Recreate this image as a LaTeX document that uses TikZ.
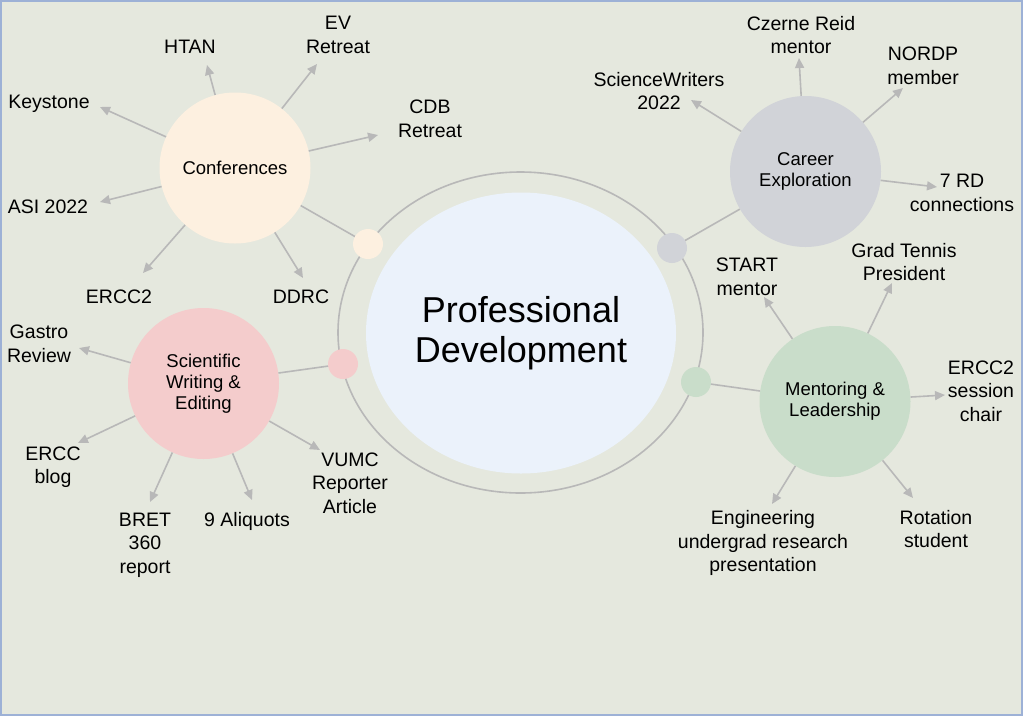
\documentclass[tikz,border=0pt]{standalone}
\usepackage{fontspec}
\setmainfont{Liberation Sans}
\usetikzlibrary{arrows.meta,shapes.geometric}
\definecolor{bgc}{HTML}{E5E8DE}
\definecolor{framec}{HTML}{9DB1D6}
\definecolor{linec}{HTML}{B8B8B8}
\definecolor{confc}{HTML}{FDF0E0}
\definecolor{scic}{HTML}{F4CCCC}
\definecolor{carc}{HTML}{D1D3D8}
\definecolor{menc}{HTML}{C9DDCA}
\definecolor{bigc}{HTML}{EBF2FB}
\tikzset{
  bubble/.style={circle,inner sep=0pt,minimum size=151pt,align=center,
    font=\fontsize{18.5}{21}\selectfont},
  dot/.style={circle,inner sep=0pt,minimum size=30pt},
  lbl/.style={align=center,inner sep=0pt,font=\fontsize{19.5}{23.5}\selectfont},
  arr/.style={draw=linec,line width=1.6pt,-{Triangle[length=10pt,width=9pt]}},
  link/.style={draw=linec,line width=1.6pt},
}
\begin{document}
\begin{tikzpicture}[x=1pt,y=-1pt]
\useasboundingbox (0,0) rectangle (1023,716);
\fill[bgc] (0,0) rectangle (1023,716);
\draw[framec,line width=2.4pt] (1,1) rectangle (1022,715);

% ring and centre
\node[ellipse,draw=linec,line width=1.6pt,minimum width=365pt,minimum height=321pt,inner sep=0pt] (ring) at (520.5,332.5) {};
\node[ellipse,fill=bigc,minimum width=310pt,minimum height=281pt,inner sep=0pt,align=center,
  font=\fontsize{36}{40}\selectfont] (pd) at (521,333) {Professional\\Development};

% bubbles
\node[bubble,fill=confc] (conf) at (235,168) {Conferences};
\node[bubble,fill=scic] (sci) at (203.5,383.5) {Scientific\\Writing \&\\Editing};
\node[bubble,fill=carc] (car) at (805.5,171.5) {Career\\Exploration};
\node[bubble,fill=menc] (men) at (835,401.5) {Mentoring \&\\Leadership};

% links to dots
\draw[link] (conf) -- (368,244) coordinate (cd0);
\draw[link] (sci) -- (343,364);
\draw[link] (car) -- (672,248);
\draw[link] (men) -- (696,382);
\node[dot,fill=confc] (confdot) at (368,244) {};
\node[dot,fill=scic] (scidot) at (343,364) {};
\node[dot,fill=carc] (cardot) at (672,248) {};
\node[dot,fill=menc] (mendot) at (696,382) {};

% labels
\node[lbl] (htan) at (190,47) {HTAN};
\node[lbl] (ev) at (338,35) {EV\\Retreat};
\node[lbl] (cdb) at (430,119) {CDB\\Retreat};
\node[lbl] (key) at (49,104) {Keystone};
\node[lbl] (asi) at (48,207) {ASI 2022};
\node[lbl] (ercc2) at (119,297) {ERCC2};
\node[lbl] (ddrc) at (301,297) {DDRC};
\node[lbl] (gastro) at (39,344) {Gastro\\Review};
\node[lbl] (blog) at (53,467) {ERCC\\blog};
\node[lbl] (bret) at (145,545) {BRET\\360\\report};
\node[lbl] (aliq) at (247,521) {9 Aliquots};
\node[lbl] (vumc) at (350,483) {VUMC\\Reporter\\Article};
\node[lbl] (sw) at (659,91) {ScienceWriters\\2022};
\node[lbl] (czerne) at (801,35) {Czerne Reid\\mentor};
\node[lbl] (nordp) at (923,66) {NORDP\\member};
\node[lbl] (rd) at (962,193) {7 RD\\connections};
\node[lbl] (start) at (747,277) {START\\mentor};
\node[lbl] (tennis) at (904,262) {Grad Tennis\\President};
\node[lbl] (session) at (981,391) {ERCC2\\session\\chair};
\node[lbl] (eng) at (763,543) {Engineering\\undergrad research\\presentation};
\node[lbl] (rot) at (936,529) {Rotation\\student};

% arrow tips
\coordinate (t-htan) at (207,65);
\coordinate (t-ev) at (317,64);
\coordinate (t-cdb) at (378,135);
\coordinate (t-key) at (100,107);
\coordinate (t-asi) at (100,202);
\coordinate (t-ercc2) at (143,273);
\coordinate (t-ddrc) at (303,278);
\coordinate (t-gastro) at (79,348);
\coordinate (t-blog) at (78,443);
\coordinate (t-bret) at (150,502);
\coordinate (t-aliq) at (252,500);
\coordinate (t-vumc) at (320,450);
\coordinate (t-sw) at (691,100);
\coordinate (t-czerne) at (799,58);
\coordinate (t-nordp) at (903,88);
\coordinate (t-rd) at (937,187);
\coordinate (t-start) at (764,297);
\coordinate (t-tennis) at (892,283);
\coordinate (t-session) at (945,395);
\coordinate (t-eng) at (772,504);
\coordinate (t-rot) at (913,498);

\foreach \t in {htan,ev,cdb,key,asi,ercc2,ddrc} \draw[arr] (conf) -- (t-\t);
\foreach \t in {gastro,blog,bret,aliq,vumc} \draw[arr] (sci) -- (t-\t);
\foreach \t in {sw,czerne,nordp,rd} \draw[arr] (car) -- (t-\t);
\foreach \t in {start,tennis,session,eng,rot} \draw[arr] (men) -- (t-\t);
\end{tikzpicture}
\end{document}
